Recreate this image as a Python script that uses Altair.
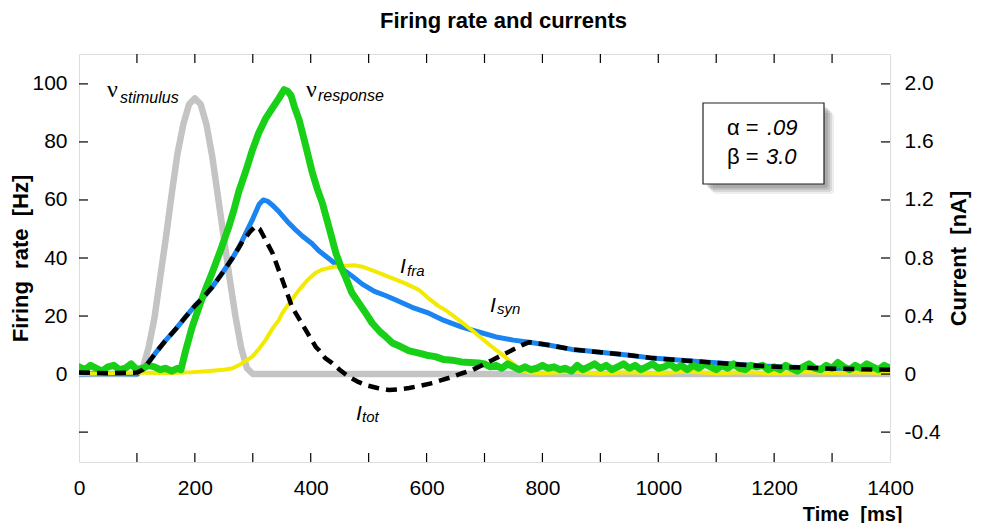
import altair as alt
import pandas as pd

# ---------------- data ----------------
# nu_stimulus [Hz]
t_stim = [0, 100, 110, 120, 130, 140, 150, 160, 170, 180, 190, 200, 210, 220, 230, 240,
          250, 260, 270, 280, 290, 300, 1400]
v_stim = [0, 0, 2, 9, 19, 33, 47, 62, 76, 86, 93, 95, 93, 86, 75, 61,
          47, 33, 20, 9, 2, 0, 0]

# nu_response [Hz]
t_resp = [0, 10, 20, 30, 40, 50, 60, 70, 80, 90, 100, 110, 120, 130, 140, 150, 160, 170,
          176, 184, 195, 207, 218, 230, 245, 259, 268, 276, 288, 299, 310, 322, 335, 345,
          354, 360, 366, 372, 380, 391, 402, 411, 420, 431, 443, 452, 460, 471, 483, 495,
          506, 520, 530, 541, 555, 570, 587, 600, 615, 630, 644, 660, 675, 690,
          700, 710, 720, 730, 740, 750, 760, 770, 780, 790, 800, 810, 820, 830, 840, 850,
          860, 870, 880, 890, 900, 910, 920, 930, 940, 950, 960, 970, 980, 990, 1000,
          1010, 1020, 1030, 1040, 1050, 1060, 1070, 1080, 1090, 1100, 1110, 1120, 1130,
          1140, 1150, 1160, 1170, 1180, 1190, 1200, 1210, 1220, 1230, 1240, 1250, 1260,
          1270, 1280, 1290, 1300, 1310, 1320, 1330, 1340, 1350, 1360, 1370, 1380, 1390, 1400]
v_resp = [2.5, 1.5, 3, 2, 1, 2.5, 3, 1.5, 2, 3.5, 1.5, 2, 3, 2.5, 1.5, 2, 1, 2,
          1.5, 8, 16, 23, 29, 35, 43, 51, 57, 63, 70, 77, 83, 88, 92, 95,
          98, 97.5, 96, 92, 87.6, 79, 70, 64, 59, 51, 42, 37, 33.5, 28, 24.5, 21,
          17.6, 14.5, 12.8, 10.7, 9.5, 8, 7.2, 6.5, 6, 5, 4.8, 4.2, 4, 3.8,
          3.5, 2.5, 3, 2, 3.5, 2.5, 1.5, 2.5, 1.5, 2, 3, 2, 2.5, 1.5, 2, 1,
          3, 1.5, 2.5, 3.5, 2, 3, 1.5, 2.5, 3.5, 2, 3, 1.5, 2.5, 3.5, 2,
          2.5, 3.5, 2, 3, 1.5, 3, 2, 3.5, 2.5, 1.5, 3, 2, 3.5,
          2, 1.5, 3, 2.5, 3, 1.5, 2.5, 1.5, 3, 2, 1, 2.5, 3.5,
          2, 1.5, 3, 2, 4, 2.5, 1.5, 3, 2, 3.5, 2.5, 1.5, 3, 2]

# I_syn [nA]
t_syn = [0, 50, 100, 104, 120, 135, 150, 167, 184, 200, 215, 230, 248, 265, 277, 288, 300,
         311, 318, 326, 335, 345, 360, 375, 386, 402, 414, 430, 449, 470, 489, 510, 530,
         547, 575, 604, 630, 661, 690, 720, 750, 777, 810, 851, 875, 900, 950, 990, 1050,
         1105, 1160, 1220, 1280, 1340, 1400]
v_syn = [0, 0.004, 0, 0.01, 0.08, 0.16, 0.234, 0.31, 0.394, 0.47, 0.53, 0.6, 0.7, 0.8, 0.88,
         0.972, 1.07, 1.17, 1.2, 1.19, 1.16, 1.12, 1.05, 0.99, 0.95, 0.9, 0.85, 0.8, 0.74,
         0.68, 0.62, 0.57, 0.54, 0.51, 0.46, 0.42, 0.37, 0.324, 0.29, 0.256, 0.234, 0.22,
         0.2, 0.17, 0.16, 0.15, 0.13, 0.11, 0.092, 0.076, 0.06, 0.048, 0.04, 0.034, 0.03]

# I_fra [nA]
t_fra = [0, 50, 100, 150, 184, 220, 250, 265, 280, 299, 310, 322, 335, 345, 351, 365, 380,
         395, 409, 420, 440, 461, 475, 489, 510, 535, 560, 587, 604, 620, 633, 656, 679,
         700, 720, 735, 748, 760, 780, 800, 850, 900, 950, 1000, 1050, 1100, 1150, 1200,
         1250, 1300, 1350, 1400]
v_fra = [0, 0.006, 0.01, 0.006, 0.01, 0.02, 0.03, 0.04, 0.07, 0.12, 0.17, 0.234, 0.32,
         0.372, 0.42, 0.5, 0.58, 0.65, 0.7, 0.72, 0.74, 0.746, 0.75, 0.74, 0.71, 0.67,
         0.63, 0.58, 0.52, 0.47, 0.44, 0.372, 0.3, 0.23, 0.166, 0.12, 0.076, 0.03, 0.01,
         0.006, 0.016, 0.004, 0.012, 0.006, 0.016, 0.006, 0.012, 0.004, 0.014, 0.008,
         0.012, 0.006]

# I_tot [nA]
t_tot = [0, 50, 100, 110, 120, 135, 150, 167, 184, 200, 215, 230, 248, 265, 280, 295, 305,
         312, 320, 334, 350, 368, 380, 392, 409, 414, 425, 437, 450, 466, 480, 495, 515,
         535, 550, 570, 590, 610, 627, 644, 660, 679, 695, 713, 730, 748, 765, 777, 810,
         851, 875, 900, 950, 990, 1050, 1105, 1160, 1220, 1280, 1340, 1400]
v_tot = [0.01, 0.006, 0.01, 0.03, 0.08, 0.16, 0.234, 0.31, 0.394, 0.47, 0.53, 0.6, 0.7,
         0.8, 0.9, 0.98, 1.02, 1.0, 0.94, 0.834, 0.66, 0.46, 0.38, 0.3, 0.186, 0.166, 0.11,
         0.076, 0.03, -0.02, -0.05, -0.076, -0.096, -0.11, -0.106, -0.096, -0.08, -0.062,
         -0.04, -0.02, 0.004, 0.028, 0.06, 0.096, 0.13, 0.166, 0.2, 0.22, 0.2, 0.17, 0.16,
         0.15, 0.13, 0.11, 0.092, 0.076, 0.06, 0.048, 0.04, 0.034, 0.03]

# axis ticks / labels
x_label_values = [0, 200, 400, 600, 800, 1000, 1200, 1400]
x_minor_ticks = [100, 200, 300, 400, 500, 600, 700, 800, 900, 1000, 1100, 1200, 1300]
rate_label_values = [0, 20, 40, 60, 80, 100]
rate_ticks = [-20, 0, 20, 40, 60, 80, 100]
current_values = [-0.4, 0.0, 0.4, 0.8, 1.2, 1.6, 2.0]

# ---------------- layout ----------------
W, H = 811, 408
TICK = 9
FONT = "Liberation Sans"
NB = "\u00a0"
rate_domain = [-30.3, 110.3]
current_domain = [-0.606, 2.206]

df_stim = pd.DataFrame({"t": t_stim, "v": v_stim})
df_resp = pd.DataFrame({"t": t_resp, "v": v_resp})
df_syn = pd.DataFrame({"t": t_syn, "v": v_syn})
df_fra = pd.DataFrame({"t": t_fra, "v": v_fra})
df_tot = pd.DataFrame({"t": t_tot, "v": v_tot})
one = pd.DataFrame({"k": [0]})

x_axis = alt.Axis(values=x_label_values, format="d", title="Time" + NB + " [ms]", ticks=False,
                  domain=False, grid=False, labelFont=FONT, labelFontSize=21,
                  labelColor="black", labelPadding=15, titleFont=FONT, titleFontSize=20,
                  titleFontWeight="bold", titleColor="black", titleAlign="right",
                  titleX=823, titleY=58, titleBaseline="alphabetic", labelFlush=False)
X = alt.X("t:Q", scale=alt.Scale(domain=[0, 1400], nice=False, zero=False), axis=x_axis)

left_axis = alt.Axis(values=rate_label_values, orient="left",
                     title="Firing" + NB + " rate" + NB + " [Hz]",
                     ticks=False, domain=False, grid=False, labelFont=FONT, labelFontSize=21,
                     labelColor="black", labelPadding=12, titleFont=FONT, titleFontSize=22,
                     titleFontWeight="bold", titleColor="black", titleAngle=-90,
                     titleX=-52, titleY=H / 2, titleBaseline="alphabetic", titleAlign="center")
right_axis = alt.Axis(values=current_values, orient="right", title="Current" + NB + " [nA]",
                      ticks=False, domain=False, grid=False, labelFont=FONT, labelFontSize=21,
                      labelColor="black", labelPadding=14,
                      labelExpr="datum.value == 0 ? '0' : replace(format(datum.value, '.1f'), '\u2212', '-')",
                      titleFont=FONT, titleFontSize=22, titleFontWeight="bold",
                      titleColor="black", titleAngle=-90, titleX=75, titleY=H / 2,
                      titleBaseline="alphabetic", titleAlign="center")

def yrate(axis=None):
    return alt.Y("v:Q", scale=alt.Scale(domain=rate_domain, nice=False, zero=False),
                 axis=axis)

def ycur(axis=None):
    return alt.Y("v:Q", scale=alt.Scale(domain=current_domain, nice=False, zero=False),
                 axis=axis)

def line(df, color, width, y, dash=None):
    kw = dict(color=color, strokeWidth=width, strokeCap="round", strokeJoin="round",
              clip=True)
    if dash:
        kw["strokeDash"] = dash
        kw["strokeCap"] = "butt"
    return alt.Chart(df).mark_line(**kw).encode(x=X, y=y, order="t:Q")

stim = line(df_stim, "#c4c4c4", 6.5, yrate(left_axis))
syn = line(df_syn, "#1a84f0", 5, ycur(right_axis))
fra = line(df_fra, "#f2ea00", 4, ycur())
resp = line(df_resp, "#17d017", 7, yrate())
tot = line(df_tot, "#000000", 4.5, ycur(), dash=[11, 7])

# inward tick marks
tick_style = dict(color="black", strokeWidth=1.2)
xt = pd.DataFrame({"t": x_minor_ticks})
bottom_ticks = alt.Chart(xt).mark_rule(**tick_style).encode(
    x=X, y=alt.value(H - TICK), y2=alt.value(H))
top_ticks = alt.Chart(xt).mark_rule(**tick_style).encode(
    x=X, y=alt.value(0), y2=alt.value(TICK))
left_ticks = alt.Chart(pd.DataFrame({"v": rate_ticks})).mark_rule(**tick_style).encode(
    y=yrate(), x=alt.value(0), x2=alt.value(TICK))
right_ticks = alt.Chart(pd.DataFrame({"v": current_values})).mark_rule(**tick_style).encode(
    y=ycur(), x=alt.value(W - TICK), x2=alt.value(W))

# annotations
def txt(s, x, y, size, italic=False, font=FONT, align="left", weight="normal"):
    return alt.Chart(one).mark_text(text=s, font=font, fontSize=size,
                                    fontStyle="italic" if italic else "normal",
                                    fontWeight=weight, align=align, baseline="alphabetic",
                                    color="black"
                                    ).encode(x=alt.value(x), y=alt.value(y))

title = txt("Firing rate and currents", W / 2 + 19, -26, 22, align="center", weight="bold")

labels = [
    txt("ν", 28, 43, 24, font="Liberation Serif"),
    txt("stimulus", 41, 49, 16, italic=True),
    txt("ν", 227, 43, 24, font="Liberation Serif"),
    txt("response", 239, 47, 16, italic=True),
    txt("I", 321, 219, 21, italic=True),
    txt("fra", 328, 222, 15, italic=True),
    txt("I", 411, 258, 21, italic=True),
    txt("syn", 418, 260, 15, italic=True),
    txt("I", 277, 366, 21, italic=True),
    txt("tot", 283, 368, 15, italic=True),
]

# parameter box with soft shadow
shadows = []
for off, op in [(10, 0.10), (8, 0.14), (6, 0.18), (4, 0.2)]:
    shadows.append(alt.Chart(one).mark_rect(color="#555555", opacity=op, cornerRadius=3).encode(
        x=alt.value(624 + off), x2=alt.value(745 + off),
        y=alt.value(49 + off), y2=alt.value(130 + off)))
box = alt.Chart(one).mark_rect(fill="white", stroke="#222222", strokeWidth=1.2).encode(
    x=alt.value(624), x2=alt.value(745), y=alt.value(49), y2=alt.value(130))
box_text = [
    txt("α =", 648, 81, 22),
    txt(".09", 688, 81, 22, italic=True),
    txt("β =", 648, 110, 22),
    txt("3.0", 687, 110, 22, italic=True),
]

chart = alt.layer(
    stim, syn, fra, resp, tot,
    bottom_ticks, top_ticks, left_ticks, right_ticks,
    *labels, *shadows, box, *box_text, title,
).resolve_scale(y="independent").resolve_axis(y="independent").properties(
    width=W, height=H,
    autosize=alt.AutoSizeParams(type="none"),
    padding={"left": 71, "top": 46, "right": 82, "bottom": 61},
).configure_view(stroke="black", strokeWidth=2).configure(background="white")

chart.save("out.html", embed_options={"renderer": "svg", "actions": False})
